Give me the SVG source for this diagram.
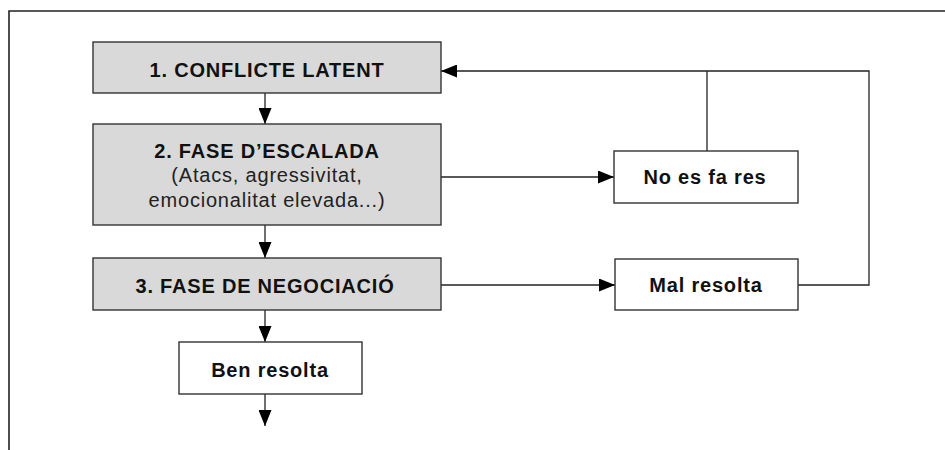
<svg xmlns="http://www.w3.org/2000/svg" width="945" height="450" viewBox="0 0 945 450">
<defs>
<marker id="arr" markerUnits="userSpaceOnUse" markerWidth="16" markerHeight="13" refX="16" refY="6.5" orient="auto">
<path d="M0,0 L16,6.5 L0,13 Z" fill="#000"/>
</marker>
<style>
.frame{fill:none;stroke:#222;stroke-width:1.6}
.box{stroke:#333;stroke-width:1.4}
.grey{fill:#d9d9d9}
.white{fill:#fff}
.line{fill:none;stroke:#222;stroke-width:1.3}
.b{font-family:"Liberation Sans",Arial,sans-serif;font-weight:bold;font-size:20px;letter-spacing:0.8px;fill:#111;text-anchor:middle}
.r{font-family:"Liberation Sans",Arial,sans-serif;font-size:20px;letter-spacing:0.8px;fill:#222;text-anchor:middle}
</style>
</defs>
<rect width="945" height="450" fill="#fff"/>
<path class="frame" d="M9,450 L9,11 L945,11"/>
<g id="connectors">
<path class="line" d="M265,93 L265,124" marker-end="url(#arr)"/>
<path class="line" d="M265,225 L265,258" marker-end="url(#arr)"/>
<path class="line" d="M265,310 L265,342" marker-end="url(#arr)"/>
<path class="line" d="M265,394 L265,426" marker-end="url(#arr)"/>
<path class="line" d="M441,177 L614,177" marker-end="url(#arr)"/>
<path class="line" d="M441,285 L615,285" marker-end="url(#arr)"/>
<path class="line" d="M798,285 L869,285 L869,71 L441,71" marker-end="url(#arr)"/>
<path class="line" d="M707,151 L707,71"/>
</g>
<g id="n1">
<rect class="box grey" x="93" y="42" width="348" height="51"/>
<text class="b" x="267" y="77">1. CONFLICTE LATENT</text>
</g>
<g id="n2">
<rect class="box grey" x="93" y="124" width="348" height="101"/>
<text class="b" x="267" y="158">2. FASE D’ESCALADA</text>
<text class="r" x="267" y="182">(Atacs, agressivitat,</text>
<text class="r" x="267" y="207">emocionalitat elevada...)</text>
</g>
<g id="n3">
<rect class="box grey" x="93" y="258" width="348" height="52"/>
<text class="b" x="265" y="293">3. FASE DE NEGOCIACIÓ</text>
</g>
<g id="n4">
<rect class="box white" x="179" y="342" width="183" height="52"/>
<text class="b" x="270" y="377">Ben resolta</text>
</g>
<g id="n5">
<rect class="box white" x="614" y="151" width="184" height="52"/>
<text class="b" x="705" y="184">No es fa res</text>
</g>
<g id="n6">
<rect class="box white" x="615" y="259" width="183" height="51"/>
<text class="b" x="706" y="292">Mal resolta</text>
</g>
</svg>
